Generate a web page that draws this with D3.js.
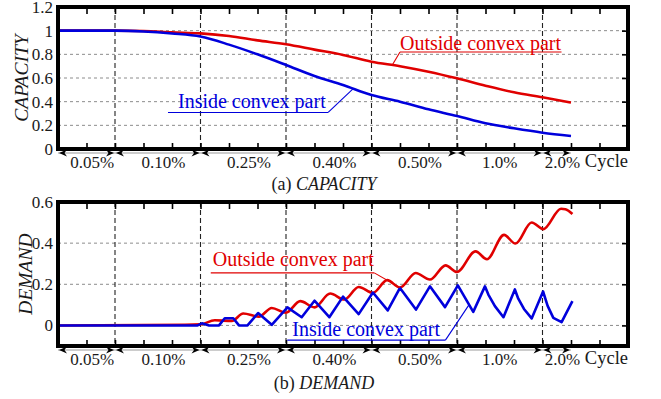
<!DOCTYPE html>
<html>
<head>
<meta charset="utf-8">
<script src="https://cdn.jsdelivr.net/npm/d3@7/dist/d3.min.js"></script>
<style>
  html, body { margin: 0; padding: 0; background: #fff; }
  svg { display: block; }
</style>
</head>
<body>
<svg id="chart" width="661" height="399"></svg>
<script>
// ---- capacity per cycle ----
const capCycle   = [0, 1, 2, 3, 4, 5, 6, 7, 8, 9, 10, 11, 12, 13, 14, 15, 16, 17, 18];
const capOutside = [1, 1, 1, 0.997, 0.986, 0.977, 0.955, 0.918, 0.885, 0.84, 0.795, 0.738, 0.70, 0.653, 0.597, 0.535, 0.479, 0.437, 0.393];
const capInside  = [1, 1, 1, 0.993, 0.976, 0.95, 0.882, 0.80, 0.71, 0.617, 0.541, 0.456, 0.40, 0.335, 0.279, 0.217, 0.175, 0.138, 0.11];

// ---- demand ----
const demOutCycle = [0, 4.45, 5.0, 5.5, 6.1, 6.5, 7.05, 7.5, 8.0, 8.5, 9.0, 9.55, 10.05, 10.55, 11.05, 11.55, 12.0, 12.55, 13.05, 13.6, 14.0, 14.65, 15.05, 15.65, 16.05, 16.62, 17.03, 17.65, 17.8, 18.05];
const demOutside  = [0, 0.003, 0.005, 0.025, 0.022, 0.058, 0.043, 0.085, 0.062, 0.118, 0.088, 0.155, 0.126, 0.187, 0.158, 0.22, 0.184, 0.255, 0.223, 0.292, 0.26, 0.36, 0.322, 0.44, 0.398, 0.50, 0.468, 0.567, 0.565, 0.542];
const demInCycle  = [0, 4.9, 5.05, 5.3, 5.65, 5.85, 6.15, 6.35, 6.65, 7.02, 7.5, 8.05, 8.55, 9.0, 9.52, 10.0, 10.55, 11.05, 11.57, 12.0, 12.56, 13.05, 13.58, 14.03, 14.57, 14.98, 15.1, 15.33, 15.63, 16.03, 16.15, 16.35, 16.62, 17.02, 17.18, 17.38, 17.67, 18.05];
const demInside   = [0, 0, 0.01, 0, 0, 0.035, 0.035, 0, 0, 0.06, 0.003, 0.088, 0.04, 0.12, 0.04, 0.14, 0.055, 0.16, 0.073, 0.182, 0.077, 0.19, 0.089, 0.195, 0.066, 0.19, 0.15, 0.094, 0.04, 0.175, 0.13, 0.08, 0.034, 0.165, 0.095, 0.037, 0.016, 0.118];

// ---- axes ----
const phaseBounds = [0, 2, 5, 8, 11, 14, 17, 18];
const phaseLabels = ["0.05%", "0.10%", "0.25%", "0.40%", "0.50%", "1.0%", "2.0%"];
const phaseLabelAt = [1.2, 3.7, 6.7, 9.7, 12.7, 15.5, 17.7];
const capTicks = [0, 0.2, 0.4, 0.6, 0.8, 1, 1.2];
const demTicks = [0, 0.2, 0.4, 0.6];
const seriesNames = ["Outside convex part", "Inside convex part"];

const RED = "#e00000", BLUE = "#0000dc";
const SERIF = "'Liberation Serif', 'Times New Roman', Tinos, 'DejaVu Serif', serif";
const INK = "#1a1a1a";
const svg = d3.select("#chart");
const x = d3.scaleLinear().domain([0, 20]).range([58, 628]);

function label(sel, size, italic) {
  return sel.style("font-family", SERIF).style("font-size", size + "px")
    .style("font-style", italic ? "italic" : "normal");
}

function drawPanel(cfg) {
  const y = cfg.y;
  const [yb, yt] = y.range();
  const g = svg.append("g");

  // horizontal dotted grid
  g.selectAll(".grid").data(cfg.grid).join("line")
    .attr("x1", x(0)).attr("x2", x(20))
    .attr("y1", d => y(d)).attr("y2", d => y(d))
    .attr("stroke", "#8c8c8c").attr("stroke-width", 1).attr("stroke-dasharray", "3,3");

  // phase boundaries
  g.selectAll(".phase").data(phaseBounds.slice(1, -1)).join("line")
    .attr("x1", d => x(d)).attr("x2", d => x(d))
    .attr("y1", yt).attr("y2", yb)
    .attr("stroke", "#222").attr("stroke-width", 1.1).attr("stroke-dasharray", "5,3");

  // series
  cfg.series.forEach(s => {
    const pts = s.cx.map((c, i) => [c, s.v[i]]);
    g.append("path").datum(pts)
      .attr("fill", "none").attr("stroke", s.color).attr("stroke-width", 2.6)
      .attr("stroke-linejoin", "round")
      .attr("d", d3.line().x(d => x(d[0])).y(d => y(d[1])).curve(s.curve)(pts));
  });

  // inward ticks on top, bottom and right
  const tickX = d3.range(1, 20);
  g.append("g").attr("transform", `translate(0,${yb})`)
    .call(d3.axisBottom(x).tickValues(tickX).tickSize(-6).tickFormat(""))
    .call(a => a.select(".domain").remove())
    .selectAll("line").attr("stroke", "#000").attr("stroke-width", 1.6);
  g.append("g").attr("transform", `translate(0,${yt})`)
    .call(d3.axisTop(x).tickValues(tickX).tickSize(-7).tickFormat(""))
    .call(a => a.select(".domain").remove())
    .selectAll("line").attr("stroke", "#000").attr("stroke-width", 1.6);
  g.append("g").attr("transform", `translate(${x(20)},0)`)
    .call(d3.axisRight(y).tickValues(cfg.ticks).tickSize(-6).tickFormat(""))
    .call(a => a.select(".domain").remove())
    .selectAll("line").attr("stroke", "#000").attr("stroke-width", 1.6);

  // frame
  g.append("rect").attr("x", x(0)).attr("y", yt)
    .attr("width", x(20) - x(0)).attr("height", yb - yt)
    .attr("fill", "none").attr("stroke", "#000").attr("stroke-width", 4);

  // left tick labels
  g.append("g").attr("transform", `translate(${x(0)},0)`)
    .call(d3.axisLeft(y).tickValues(cfg.ticks).tickSize(0).tickPadding(5).tickFormat(d3.format("")))
    .call(a => a.select(".domain").remove())
    .selectAll("text").attr("fill", INK).call(label, 17, false);

  // y title
  g.append("text")
    .attr("transform", `translate(${cfg.titleX},${(yt + yb) / 2}) rotate(-90)`)
    .attr("text-anchor", "middle").attr("fill", INK)
    .call(label, 19.5, true)
    .text(cfg.title);

  // phase arrows under the axis
  const ay = yb + 4;
  g.append("line").attr("x1", x(0)).attr("x2", x(18)).attr("y1", ay).attr("y2", ay)
    .attr("stroke", "#9a9a9a").attr("stroke-width", 1.2);
  const heads = [];
  for (let i = 0; i < phaseBounds.length - 1; i++) {
    heads.push({ at: phaseBounds[i], dir: -1 });
    heads.push({ at: phaseBounds[i + 1], dir: 1 });
  }
  g.selectAll(".head").data(heads).join("path")
    .attr("fill", "#000")
    .attr("d", d => {
      const tx = x(d.at) - d.dir * 1, s = -d.dir;
      return `M${tx},${ay} L${tx + s * 8},${ay - 3.6} L${tx + s * 5.5},${ay} L${tx + s * 8},${ay + 3.6} Z`;
    });

  g.selectAll(".plab").data(phaseLabels).join("text")
    .attr("x", (d, i) => x(phaseLabelAt[i])).attr("y", yb + 19)
    .attr("text-anchor", "middle").attr("fill", INK)
    .call(label, 17, false).text(d => d);
  g.append("text").attr("x", x(20)).attr("y", yb + 18)
    .attr("text-anchor", "end").attr("fill", INK)
    .call(label, 18.5, false).text("Cycle");

  // caption
  const cap = g.append("text").attr("x", 324).attr("y", cfg.captionY)
    .attr("text-anchor", "middle").attr("fill", INK).call(label, 18, false);
  cap.append("tspan").text(cfg.captionTag + " ");
  cap.append("tspan").style("font-style", "italic").text(cfg.title);

  // series annotations with underline and leader
  cfg.notes.forEach(n => {
    const t = g.append("text").attr("x", n.tx).attr("y", n.ty)
      .attr("fill", n.color).call(label, 20, false).text(n.text);
    const bb = t.node().getBBox();
    const uy = n.ty + n.ul;
    const ux1 = bb.x - n.padL, ux2 = bb.x + bb.width + n.padR;
    g.append("line").attr("x1", ux1).attr("x2", ux2).attr("y1", uy).attr("y2", uy)
      .attr("stroke", n.color).attr("stroke-width", 1.1);
    const sx = n.leaderFrom === "left" ? ux1 : ux2;
    g.append("line").attr("x1", sx).attr("y1", uy)
      .attr("x2", x(n.to[0])).attr("y2", y(n.to[1]))
      .attr("stroke", n.color).attr("stroke-width", 1.1);
  });
}

const yCap = d3.scaleLinear().domain([0, 1.2]).range([149, 7]);
const yDem = d3.scaleLinear().domain([-0.1, 0.6]).range([346, 202]);

drawPanel({
  y: yCap, ticks: capTicks, grid: [0.2, 0.4, 0.6, 0.8, 1],
  title: "CAPACITY", titleX: 28, captionTag: "(a)", captionY: 190,
  series: [
    { cx: capCycle, v: capOutside, color: RED, curve: d3.curveMonotoneX },
    { cx: capCycle, v: capInside, color: BLUE, curve: d3.curveMonotoneX }
  ],
  notes: [
    { text: seriesNames[0], color: RED, tx: x(12.0), ty: yCap(0.837), ul: 2, padL: 0, padR: 0, leaderFrom: "left", to: [11.72, 0.705] },
    { text: seriesNames[1], color: BLUE, tx: x(4.21), ty: yCap(0.347), ul: 4.5, padL: 10, padR: 2, leaderFrom: "right", to: [10.36, 0.51] }
  ]
});

drawPanel({
  y: yDem, ticks: demTicks, grid: [0, 0.2, 0.4],
  title: "DEMAND", titleX: 32, captionTag: "(b)", captionY: 389,
  series: [
    { cx: demOutCycle, v: demOutside, color: RED, curve: d3.curveMonotoneX },
    { cx: demInCycle, v: demInside, color: BLUE, curve: d3.curveLinear }
  ],
  notes: [
    { text: seriesNames[0], color: RED, tx: x(5.43), ty: yDem(0.287), ul: 6.5, padL: 2, padR: 0, leaderFrom: "right", to: [12.0, 0.184] },
    { text: seriesNames[1], color: BLUE, tx: x(8.22), ty: yDem(-0.052), ul: 4, padL: 5, padR: 5, leaderFrom: "right", to: [14.42, 0.1] }
  ]
});
</script>
</body>
</html>
